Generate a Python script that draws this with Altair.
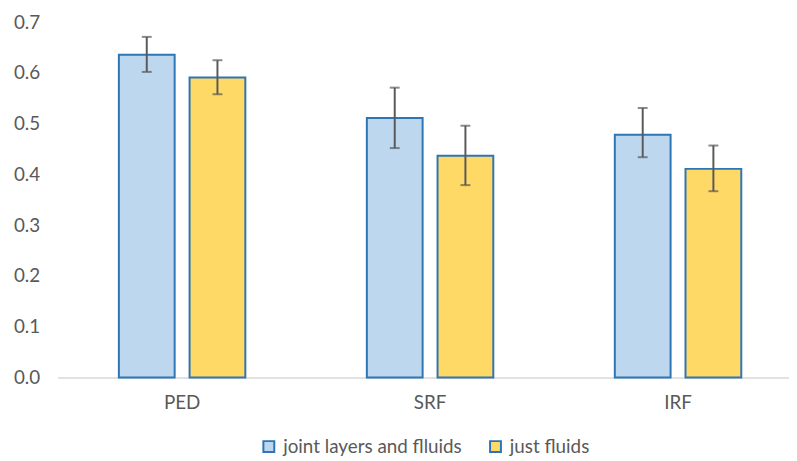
import altair as alt
import pandas as pd

categories = ["PED", "SRF", "IRF"]
series = ["joint layers and flluids", "just fluids"]
joint_vals = [0.636, 0.511, 0.478]
joint_lo = [0.602, 0.452, 0.434]
joint_hi = [0.671, 0.571, 0.531]
fluid_vals = [0.591, 0.437, 0.411]
fluid_lo = [0.558, 0.379, 0.367]
fluid_hi = [0.625, 0.496, 0.457]
y_ticks = [0.0, 0.1, 0.2, 0.3, 0.4, 0.5, 0.6, 0.7]

rows = []
for i, c in enumerate(categories):
    rows.append(dict(cat=c, series=series[0], value=joint_vals[i], lo=joint_lo[i], hi=joint_hi[i]))
    rows.append(dict(cat=c, series=series[1], value=fluid_vals[i], lo=fluid_lo[i], hi=fluid_hi[i]))
df = pd.DataFrame(rows)

FONT = "Lato"
GRAY = "#595959"
FS = 19

x = alt.X("cat:N", sort=categories, title=None,
          scale=alt.Scale(paddingInner=0.49, paddingOuter=0.22, align=0.5626),
          axis=alt.Axis(labelAngle=0, ticks=False, domainColor="#D9D9D9", domainWidth=1.5,
                        labelColor=GRAY, labelFontSize=FS, labelFont=FONT, labelPadding=16))
xoff = alt.XOffset("series:N", sort=series, scale=alt.Scale(paddingInner=0.211, paddingOuter=0))
y_scale = alt.Scale(domain=[0, 0.7], nice=False)

bars = alt.Chart(df).mark_bar(stroke="#2E75B6", strokeWidth=2).encode(
    x=x,
    xOffset=xoff,
    y=alt.Y("value:Q", scale=y_scale, title=None,
            axis=alt.Axis(values=y_ticks, format=".1f", grid=False, domain=False, ticks=False,
                          labelColor=GRAY, labelFontSize=FS, labelFont=FONT, labelPadding=18)),
    fill=alt.Fill("series:N", sort=series,
                  scale=alt.Scale(domain=series, range=["#BDD7EE", "#FFD966"]),
                  legend=alt.Legend(title=None, orient="none", direction="horizontal",
                                    legendX=204, legendY=419,
                                    symbolType="square", symbolSize=121,
                                    symbolStrokeColor="#2E75B6", symbolStrokeWidth=2,
                                    labelColor=GRAY, labelFontSize=FS, labelFont=FONT,
                                    labelLimit=0, labelOffset=5, columnPadding=24)),
)

rules = alt.Chart(df).mark_rule(color=GRAY, strokeWidth=2).encode(
    x=x, xOffset=xoff,
    y=alt.Y("lo:Q", scale=y_scale),
    y2="hi:Q",
)
caps_hi = alt.Chart(df).mark_tick(color=GRAY, thickness=2, size=10).encode(
    x=x, xOffset=xoff, y=alt.Y("hi:Q", scale=y_scale))
caps_lo = alt.Chart(df).mark_tick(color=GRAY, thickness=2, size=10).encode(
    x=x, xOffset=xoff, y=alt.Y("lo:Q", scale=y_scale))

chart = alt.layer(bars, rules, caps_hi, caps_lo).properties(
    width=739, height=359,
    autosize=alt.AutoSizeParams(type="none"),
    padding={"left": 50, "top": 12, "right": 0, "bottom": 80},
).configure_view(stroke=None)

chart.save("out.html", embed_options={"renderer": "svg", "actions": False})
